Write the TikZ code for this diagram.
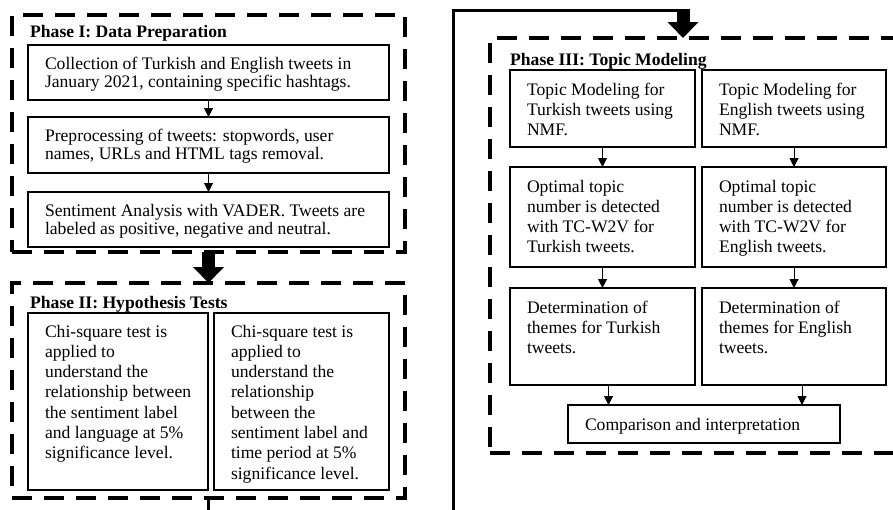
\documentclass[tikz,border=0pt]{standalone}
\usepackage{fontspec}
\setmainfont{Liberation Serif}
\usetikzlibrary{arrows.meta}
\newcommand{\bxt}[4]{\hspace*{17pt}\parbox[c][#2pt][t]{\dimexpr#1pt-21pt\relax}{\raggedright\rule{0pt}{#3pt}#4}\hspace*{4pt}}
\tikzset{
  phase/.style={draw, line width=4pt, dash pattern=on 20pt off 12pt, inner sep=0pt, outer sep=0pt, anchor=north west},
  box/.style={draw, line width=1.5pt, inner sep=0pt, outer sep=0pt, anchor=north west, font=\fontsize{17.6}{20.3}\selectfont},
  boxa/.style={box, font=\fontsize{17.6}{18.3}\selectfont},
  title/.style={anchor=base west, inner sep=0pt, font=\fontsize{17.6}{20}\selectfont\bfseries},
  arr/.style={line width=1pt, -{Triangle[width=9pt,length=9pt]}},
  bigarrow/.style={line width=13pt, -{Triangle[width=30pt,length=16pt]}},
  conn/.style={line width=3pt, line join=miter}
}
\begin{document}
\begin{tikzpicture}[x=1pt,y=-1pt]
\fill[white] (0,0) rectangle (893,509);
\useasboundingbox (0,0) rectangle (893,509);
\clip (0,0) rectangle (893,509);

% Phase containers
\node[phase, minimum width=393pt, minimum height=237pt] (ph1) at (12,15) {};
\node[phase, minimum width=393pt, minimum height=215pt] (ph2) at (12,283) {};
\node[phase, minimum width=430pt, minimum height=415pt] (ph3) at (490,38) {};

% Titles
\node[title] (t1) at (30,37) {Phase I: Data Preparation};
\node[title] (t2) at (30,308) {Phase II: Hypothesis Tests};
\node[title] (t3) at (510,65) {Phase III: Topic Modeling};

% Phase I boxes
\node[boxa] (p1a) at (28,45) {\bxt{361}{55}{24}{Collection of Turkish and English tweets in\\January 2021, containing specific hashtags.}};
\node[boxa] (p1b) at (28,117) {\bxt{361}{56}{24}{Preprocessing of tweets: stopwords, user\\names, URLs and HTML tags removal.}};
\node[boxa] (p1c) at (28,192) {\bxt{361}{55}{24}{Sentiment Analysis with VADER. Tweets are\\labeled as positive, negative and neutral.}};

% Phase II boxes
\node[box] (p2a) at (28,313) {\bxt{180}{177}{24}{Chi-square test is\\applied to\\understand the\\relationship between\\the sentiment label\\and language at 5\%\\significance level.}};
\node[box] (p2b) at (214,313) {\bxt{175}{177}{24}{Chi-square test is\\applied to\\understand the\\relationship\\between the\\sentiment label and\\time period at 5\%\\significance level.}};

% Phase III boxes
\node[box] (l1) at (510,70) {\bxt{185}{77}{25}{Topic Modeling for\\Turkish tweets using\\NMF.}};
\node[box] (r1) at (702,70) {\bxt{184}{77}{25}{Topic Modeling for\\English tweets using\\NMF.}};
\node[box] (l2) at (510,167) {\bxt{185}{100}{25}{Optimal topic\\number is detected\\with TC-W2V for\\Turkish tweets.}};
\node[box] (r2) at (702,167) {\bxt{184}{100}{25}{Optimal topic\\number is detected\\with TC-W2V for\\English tweets.}};
\node[box] (l3) at (510,288) {\bxt{185}{97}{25}{Determination of\\themes for Turkish\\tweets.}};
\node[box] (r3) at (702,288) {\bxt{184}{97}{25}{Determination of\\themes for English\\tweets.}};
\node[box] (cmp) at (568,405) {\bxt{272}{38}{25}{Comparison and interpretation}};

% Arrows inside phases
\draw[arr] (p1a.south) -- (p1b.north);
\draw[arr] (p1b.south) -- (p1c.north);
\draw[arr] (l1.south) -- (l2.north);
\draw[arr] (r1.south) -- (r2.north);
\draw[arr] (l2.south) -- (l3.north);
\draw[arr] (r2.south) -- (r3.north);
\draw[arr] ([xshift=6pt]l3.south) -- ([xshift=6pt]l3.south |- cmp.north);
\draw[arr] ([xshift=8pt]r3.south) -- ([xshift=8pt]r3.south |- cmp.north);

% Phase transitions
\draw[bigarrow] (ph1.south) -- (ph2.north);
\coordinate (c0) at (208.5,540);
\coordinate (c1) at (453,540);
\coordinate (c2) at (453,10);
\coordinate (c3) at (683,10);
\draw[conn] (ph2.south) -- (c0) -- (c1) -- (c2) -- (c3);
\draw[bigarrow] ([yshift=1.5pt]c3) -- (c3 |- ph3.north);
\end{tikzpicture}
\end{document}
